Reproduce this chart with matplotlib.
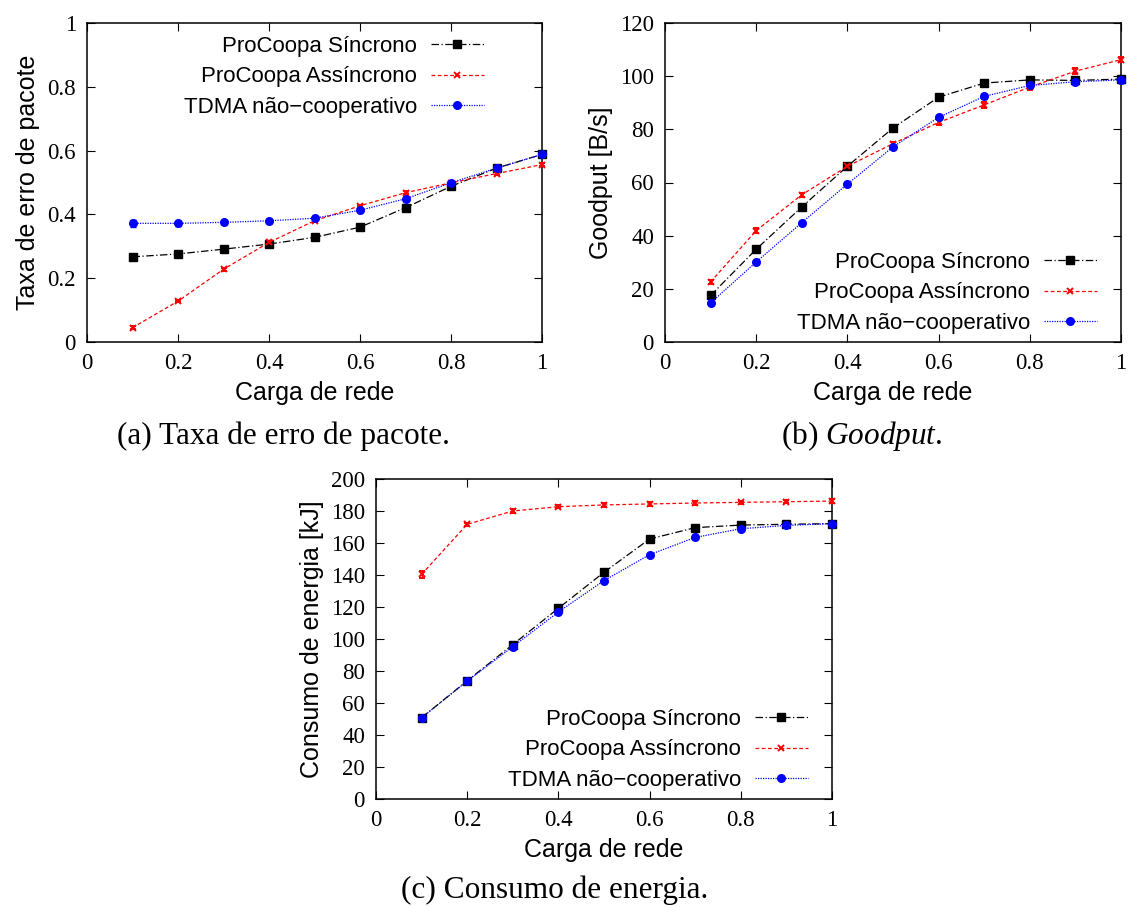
import matplotlib
matplotlib.use('Agg')
import matplotlib.pyplot as plt
from matplotlib.lines import Line2D
from matplotlib.ticker import FuncFormatter

plt.rcParams['mathtext.fontset'] = 'custom'
plt.rcParams['mathtext.rm'] = 'Liberation Serif'
plt.rcParams['mathtext.it'] = 'Liberation Serif:italic'

carga = [0.1, 0.2, 0.3, 0.4, 0.5, 0.6, 0.7, 0.8, 0.9, 1.0]
nomes = ['ProCoopa Síncrono', 'ProCoopa Assíncrono', 'TDMA não\u2212cooperativo']

# (a) taxa de erro de pacote
per_sinc = [0.267, 0.276, 0.291, 0.307, 0.328, 0.360, 0.421, 0.488, 0.545, 0.588]
per_assinc = [0.045, 0.128, 0.228, 0.312, 0.380, 0.427, 0.468, 0.499, 0.528, 0.556]
per_tdma = [0.372, 0.372, 0.375, 0.380, 0.388, 0.413, 0.449, 0.499, 0.545, 0.588]
per_err_sinc = [0.008, 0.004, 0.004, 0.004, 0.004, 0.004, 0.005, 0.005, 0.005, 0.006]
per_err_assinc = [0.005, 0.004, 0.004, 0.004, 0.004, 0.004, 0.005, 0.005, 0.005, 0.005]
per_err_tdma = [0.012, 0.008, 0.006, 0.005, 0.005, 0.005, 0.006, 0.005, 0.006, 0.006]

# (b) goodput
gp_sinc = [17.5, 34.9, 50.8, 66.1, 80.5, 92.1, 97.4, 98.6, 98.4, 98.9]
gp_assinc = [22.6, 41.9, 55.4, 66.1, 74.6, 82.6, 89.2, 95.9, 101.9, 106.2]
gp_tdma = [14.7, 30.1, 44.9, 59.4, 73.4, 84.5, 92.4, 96.5, 97.9, 98.6]
gp_err = [0.8, 0.8, 0.8, 0.8, 0.8, 0.8, 1.0, 1.0, 1.0, 1.0]

# (c) consumo de energia
en_sinc = [50.8, 73.9, 96.5, 119.2, 141.7, 162.5, 169.6, 171.2, 171.7, 172.1]
en_assinc = [140.4, 171.7, 180.0, 182.7, 183.8, 184.4, 185.0, 185.4, 185.8, 186.2]
en_tdma = [50.8, 73.7, 95.2, 116.9, 136.5, 152.7, 163.5, 168.9, 171.0, 172.1]
en_err = [1.0, 1.0, 1.0, 1.0, 1.0, 1.0, 1.0, 1.0, 1.0, 1.0]
en_err_assinc = [2.0, 1.0, 1.0, 1.0, 1.0, 1.0, 1.0, 1.0, 1.0, 1.0]

W, H = 1128, 907
fig = plt.figure(figsize=(W/100, H/100), dpi=100)

serif = 'Liberation Serif'
sans = 'Liberation Sans'

estilos = [
    dict(color='black', linestyle=(0, (6, 2, 1, 2)), marker='s', markersize=5.5),
    dict(color='red', linestyle=(0, (3, 2)), marker='x', markersize=4.5, markeredgewidth=1.4),
    dict(color='blue', linestyle=(0, (1, 1)), marker='o', markersize=5.5),
]

def eixo(l, r, t, b):
    return fig.add_axes([l/W, 1 - b/H, (r - l)/W, (b - t)/H])

def fmt(v, pos):
    return '%g' % round(v, 3)

def painel(ax, series, erros, ymax, ystep, ylabel, leg_xy):
    for ys, es, st in zip(series, erros, estilos):
        ax.errorbar(carga, ys, yerr=es, linewidth=0.9, elinewidth=0.8, capsize=2.5,
                    clip_on=False, zorder=3, **st)
    ax.set_xlim(0, 1)
    ax.set_ylim(0, ymax)
    ax.set_xticks([0, 0.2, 0.4, 0.6, 0.8, 1.0])
    yt = []
    v = 0
    while v <= ymax + 1e-9:
        yt.append(v)
        v += ystep
    ax.set_yticks(yt)
    ax.xaxis.set_major_formatter(FuncFormatter(fmt))
    ax.yaxis.set_major_formatter(FuncFormatter(fmt))
    ax.tick_params(direction='in', length=6, width=0.8, top=True, right=True,
                   labelsize=16.5, pad=8)
    for lb in ax.get_xticklabels() + ax.get_yticklabels():
        lb.set_fontfamily(serif)
    for sp in ax.spines.values():
        sp.set_linewidth(1.1)
    ax.set_xlabel('Carga de rede', fontsize=18, fontfamily=sans, labelpad=5)
    ax.set_ylabel(ylabel, fontsize=18, fontfamily=sans, labelpad=5)
    handles = [Line2D([], [], linewidth=0.9, **st) for st in estilos]
    ax.legend(handles, nomes, loc='upper right', bbox_to_anchor=(leg_xy[0]/W, 1 - leg_xy[1]/H),
              bbox_transform=fig.transFigure, frameon=False, markerfirst=False,
              prop={'family': sans, 'size': 16}, handlelength=2.4, handletextpad=0.6,
              labelspacing=0.42, borderpad=0, borderaxespad=0)

ax1 = eixo(87, 542, 23, 342)
painel(ax1, [per_sinc, per_assinc, per_tdma], [per_err_sinc, per_err_assinc, per_err_tdma],
       1.0, 0.2, 'Taxa de erro de pacote', (484, 36))

ax2 = eixo(665, 1121, 23, 342)
painel(ax2, [gp_sinc, gp_assinc, gp_tdma], [gp_err, gp_err, gp_err],
       120, 20, 'Goodput [B/s]', (1097, 252))

ax3 = eixo(376, 832, 479, 799)
painel(ax3, [en_sinc, en_assinc, en_tdma], [en_err, en_err_assinc, en_err],
       200, 20, 'Consumo de energia [kJ]', (808, 709))

fig.text(283/W, 1 - 436/H, '(a) Taxa de erro de pacote.', ha='center', va='center',
         fontsize=22.5, fontfamily=serif)
fig.text(862/W, 1 - 436/H, '(b) $\\mathit{Goodput}$.', ha='center', va='center',
         fontsize=22.5, fontfamily=serif)
fig.text(555/W, 1 - 890/H, '(c) Consumo de energia.', ha='center', va='center',
         fontsize=22.5, fontfamily=serif)

plt.savefig('out.png', dpi=100)
